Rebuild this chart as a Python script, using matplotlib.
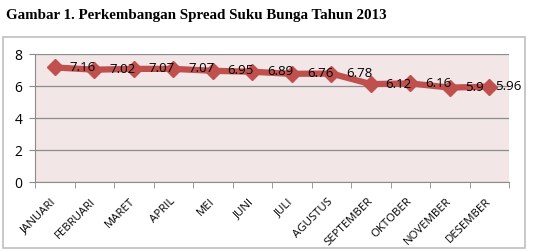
import matplotlib
matplotlib.use("Agg")
import matplotlib.pyplot as plt
from matplotlib.patches import Rectangle

months = ["JANUARI", "FEBRUARI", "MARET", "APRIL", "MEI", "JUNI", "JULI",
          "AGUSTUS", "SEPTEMBER", "OKTOBER", "NOVEMBER", "DESEMBER"]
spread = [7.16, 7.02, 7.07, 7.07, 6.95, 6.89, 6.76, 6.78, 6.12, 6.16, 5.9, 5.96]
yticks = [0, 2, 4, 6, 8]
title = "Gambar 1. Perkembangan Spread Suku Bunga Tahun 2013"

red = "#C0504D"
body_font = "Open Sans"

fig = plt.figure(figsize=(5.34, 2.52), dpi=100)
ax = fig.add_axes([35 / 534, 1 - 182 / 252, 474 / 534, 128 / 252])

# outer chart frame
fig.patches.append(Rectangle((3 / 534, 1 - 248 / 252), 522 / 534, 211 / 252,
                             transform=fig.transFigure, fill=False,
                             edgecolor="#BFBFBF", linewidth=1.2))

fig.text(6 / 534, 1 - 15 / 252, title, family="Liberation Serif",
         weight="bold", fontsize=10.8, va="center", ha="left")

x = list(range(len(months)))
ax.plot(x, spread, color=red, linewidth=4.5, marker="D", markersize=8,
        zorder=3)
# labels sit right of the point; last one is squeezed to stay in the frame
for xi, v in zip(x, spread):
    dx = 6 if xi == x[-1] else 15
    ax.annotate(f"{v:g}", (xi, v), xytext=(dx, 0), textcoords="offset pixels",
                ha="left", va="center", fontsize=9.5, family=body_font,
                zorder=4)

ax.set_facecolor("#F2E6E6")
ax.set_xlim(-0.5, len(months) - 0.5)
ax.set_ylim(0, 8)
ax.set_yticks(yticks)
ax.yaxis.grid(True, color="#8C8C8C", linewidth=0.9)
ax.set_axisbelow(True)
for s in ("top", "right"):
    ax.spines[s].set_visible(False)
for s in ("left", "bottom"):
    ax.spines[s].set_color("#8C8C8C")

ax.set_xticks(x)
ax.set_xticklabels(months, rotation=45, ha="right", va="center",
                   rotation_mode="anchor", fontsize=8.2, family=body_font)
ax.set_xticks([i - 0.5 for i in range(len(months) + 1)], minor=True)
ax.tick_params(axis="x", which="major", length=0, pad=13)
ax.tick_params(axis="x", which="minor", length=4, color="#8C8C8C")
ax.tick_params(axis="y", length=4, color="#8C8C8C", pad=5)
for lbl in ax.get_yticklabels():
    lbl.set_family(body_font)
    lbl.set_fontsize(10)

fig.savefig("out.png", dpi=100)
